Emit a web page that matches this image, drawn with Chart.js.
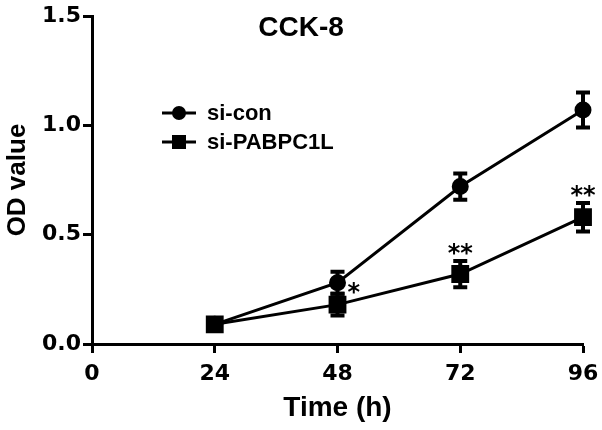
<!DOCTYPE html>
<html>
<head>
<meta charset="utf-8">
<script src="https://cdn.jsdelivr.net/npm/chart.js@4.4.0/dist/chart.umd.min.js"></script>
<style>
  html, body { margin: 0; padding: 0; background: #fff; }
  #wrap { width: 602px; height: 430px; }
</style>
</head>
<body>
<div id="wrap"><canvas id="cck"></canvas></div>
<script>
// data
const times = [24, 48, 72, 96];
const seriesNames = ["si-con", "si-PABPC1L"];
const conValues = [0.09, 0.28, 0.72, 1.07];
const conErrors = [0.01, 0.05, 0.06, 0.08];
const kdValues = [0.09, 0.18, 0.32, 0.58];
const kdErrors = [0.01, 0.05, 0.06, 0.065];
const kdStars = ["", "*", "**", "**"];
const xTicks = [0, 24, 48, 72, 96];
const yTicks = [0, 0.5, 1.0, 1.5];

const toPoints = (vals) => times.map((t, i) => ({ x: t, y: vals[i] }));

// error bars, asterisks, legend and title
const extras = {
  id: "extras",
  afterDatasetsDraw(chart) {
    const ctx = chart.ctx;
    const xs = chart.scales.x, ys = chart.scales.y;
    const errs = [conErrors, kdErrors];
    const vals = [conValues, kdValues];
    ctx.save();
    ctx.strokeStyle = "#000";
    ctx.lineCap = "butt";
    for (let d = 0; d < 2; d++) {
      for (let i = 0; i < times.length; i++) {
        const px = xs.getPixelForValue(times[i]);
        const top = ys.getPixelForValue(vals[d][i] + errs[d][i]);
        const bot = ys.getPixelForValue(vals[d][i] - errs[d][i]);
        ctx.lineWidth = 4;
        ctx.beginPath();
        ctx.moveTo(px, top); ctx.lineTo(px, bot);
        ctx.moveTo(px - 7, top); ctx.lineTo(px + 7, top);
        ctx.moveTo(px - 7, bot); ctx.lineTo(px + 7, bot);
        ctx.stroke();
      }
    }
    // significance marks
    ctx.fillStyle = "#000";
    ctx.font = "bold 24px 'DejaVu Sans'";
    for (let i = 0; i < times.length; i++) {
      if (!kdStars[i]) continue;
      const px = xs.getPixelForValue(times[i]);
      const py = ys.getPixelForValue(kdValues[i]);
      const top = ys.getPixelForValue(kdValues[i] + kdErrors[i]);
      ctx.textBaseline = "alphabetic";
      if (kdStars[i] === "*") {
        ctx.textAlign = "left";
        ctx.fillText(kdStars[i], px + 10, py - 5);
      } else {
        ctx.textAlign = "center";
        ctx.fillText(kdStars[i], px, top);
      }
    }
    // legend
    const lx = 162, ly = [113, 142];
    ctx.font = "bold 22px 'Liberation Sans'";
    ctx.textAlign = "left";
    ctx.textBaseline = "middle";
    for (let d = 0; d < 2; d++) {
      ctx.lineWidth = 3;
      ctx.beginPath();
      ctx.moveTo(lx, ly[d]); ctx.lineTo(lx + 34, ly[d]);
      ctx.stroke();
      if (d === 0) {
        ctx.beginPath();
        ctx.arc(lx + 17, ly[d], 7, 0, Math.PI * 2);
        ctx.fill();
      } else {
        ctx.fillRect(lx + 10, ly[d] - 7, 14, 14);
      }
      ctx.fillText(seriesNames[d], lx + 45, ly[d] + 1);
    }
    // title
    ctx.font = "bold 28px 'Liberation Sans'";
    ctx.textAlign = "center";
    ctx.textBaseline = "alphabetic";
    ctx.fillText("CCK-8", 301, 36);
    ctx.restore();
  }
};

const tickFont = { family: "'DejaVu Sans'", size: 22, weight: "bold" };

new Chart("cck", {
  type: "line",
  data: {
    datasets: [{
      label: seriesNames[0],
      data: toPoints(conValues),
      borderColor: "#000",
      backgroundColor: "#000",
      borderWidth: 3,
      pointStyle: "circle",
      pointRadius: 7,
      tension: 0,
      clip: false
    }, {
      label: seriesNames[1],
      data: toPoints(kdValues),
      borderColor: "#000",
      backgroundColor: "#000",
      borderWidth: 3,
      pointStyle: "rect",
      pointRadius: 10.5,
      tension: 0,
      clip: false
    }]
  },
  options: {
    responsive: true,
    maintainAspectRatio: false,
    animation: false,
    layout: { padding: { top: 16, right: 19, left: 0, bottom: 0 } },
    plugins: { legend: { display: false }, tooltip: { enabled: false } },
    scales: {
      x: {
        type: "linear",
        min: 0, max: 96,
        afterBuildTicks: (s) => { s.ticks = xTicks.map(v => ({ value: v })); },
        afterFit: (s) => { s.height = 86; s.paddingLeft = 0; s.paddingRight = 0; },
        grid: { drawOnChartArea: false, tickLength: 9, tickWidth: 3, tickColor: "#000" },
        border: { display: true, width: 3, color: "#000" },
        ticks: { color: "#000", font: tickFont, padding: 8, maxRotation: 0 },
        title: { display: true, text: "Time (h)", color: "#000",
                 font: { family: "'Liberation Sans'", size: 28, weight: "bold" },
                 padding: { top: 0, bottom: 5 } }
      },
      y: {
        min: 0, max: 1.5,
        afterBuildTicks: (s) => { s.ticks = yTicks.map(v => ({ value: v })); },
        afterFit: (s) => { s.width = 92; s.paddingTop = 0; s.paddingBottom = 0; },
        grid: { drawOnChartArea: false, tickLength: 9, tickWidth: 3, tickColor: "#000" },
        border: { display: true, width: 3, color: "#000" },
        ticks: { color: "#000", font: tickFont, padding: 2,
                 callback: (v) => Number(v).toFixed(1) },
        title: { display: true, text: "OD value", color: "#000",
                 font: { family: "'Liberation Sans'", size: 26, weight: "bold" },
                 padding: { top: 2, bottom: 0 } }
      }
    }
  },
  plugins: [extras]
});
</script>
</body>
</html>
